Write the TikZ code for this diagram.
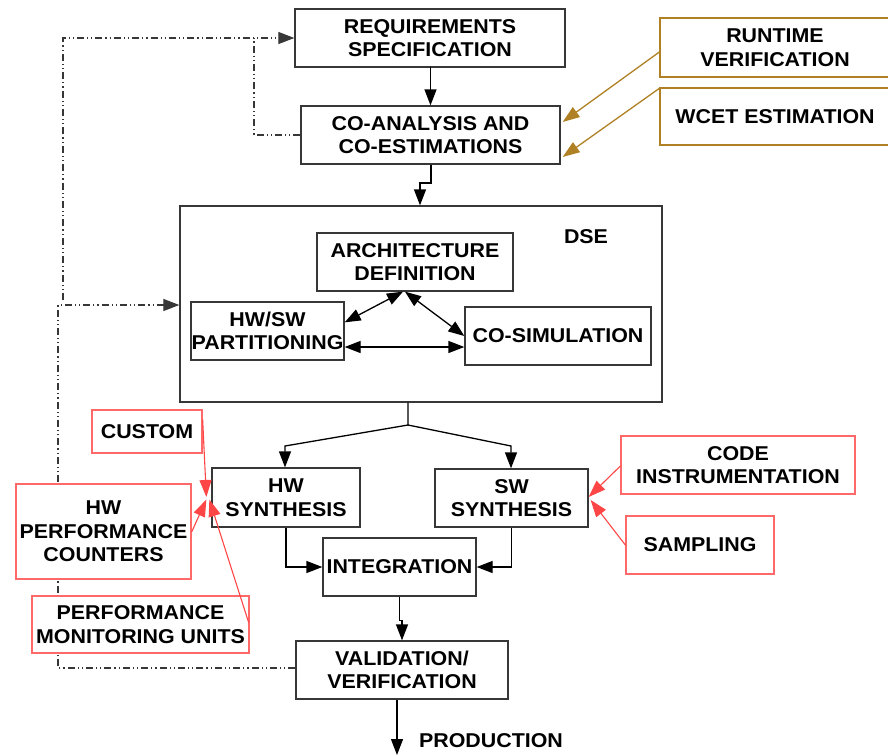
\documentclass[tikz,border=0pt]{standalone}
\usepackage{fontspec}
\setmainfont{Liberation Sans}[FakeStretch=1.07]
\usetikzlibrary{arrows.meta,calc,backgrounds}
\definecolor{boxgray}{RGB}{55,55,55}
\definecolor{brownarr}{RGB}{176,128,36}
\definecolor{redbox}{RGB}{255,105,105}
\definecolor{redarr}{RGB}{255,70,70}
\begin{document}
\begin{tikzpicture}[x=1pt,y=-1pt,
  lbl/.style={font=\fontsize{20}{23.5}\selectfont\bfseries, align=center, inner sep=0pt},
  blk/.style={lbl, draw=boxgray, line width=1.3pt, fill=white},
  brn/.style={lbl, draw=brownarr, line width=1.3pt, fill=white},
  rbx/.style={lbl, draw=redbox, line width=1.3pt, fill=white},
  sz/.style 2 args={minimum width=#1, minimum height=#2},
  tip/.tip={Triangle[length=16pt,width=12pt]},
  arr/.style={draw=black, line width=1.3pt, -tip},
  darr/.style={draw=black, line width=1.3pt, tip-tip},
  barr/.style={draw=brownarr, line width=1.3pt, -{Triangle[length=17pt,width=12pt]}},
  rarr/.style={draw=redarr, line width=1.1pt, -{Triangle[length=17pt,width=12pt]}},
  dd/.style={draw=boxgray, line width=1.2pt, dash pattern={on 7pt off 3pt on 1.2pt off 3pt on 1.2pt off 3pt}}
]
\useasboundingbox (0,0) rectangle (888,755);

% main flow boxes
\node[blk, sz={270pt}{58pt}] (req) at (430,38) {REQUIREMENTS\\SPECIFICATION};
\node[blk, sz={259pt}{58pt}] (coan) at (430.5,135) {CO-ANALYSIS AND\\CO-ESTIMATIONS};
\node[brn, sz={230pt}{59pt}] (rtv) at (775,47.5) {RUNTIME\\VERIFICATION};
\node[brn, sz={230pt}{57pt}] (wcet) at (775,116.5) {WCET ESTIMATION};

\node[blk, sz={482pt}{196pt}] (dse) at (421,304) {};
\node[lbl] (dselbl) at (586,237) {DSE};
\node[blk, sz={196pt}{58pt}] (arch) at (415,262) {ARCHITECTURE\\DEFINITION};
\node[blk, sz={153pt}{58pt}] (part) at (267.5,331) {HW/SW\\PARTITIONING};
\node[blk, sz={186pt}{58pt}] (cosim) at (558,336) {CO-SIMULATION};

\node[rbx, sz={110pt}{43pt}] (custom) at (147,431.5) {CUSTOM};
\node[rbx, sz={175pt}{95pt}] (hwpc) at (103.5,531.5) {HW\\PERFORMANCE\\COUNTERS};
\node[rbx, sz={217pt}{57pt}] (pmu) at (140.5,624.5) {PERFORMANCE\\MONITORING UNITS};

\node[blk, sz={148pt}{59pt}] (hws) at (286,497.5) {HW\\SYNTHESIS};
\node[blk, sz={153pt}{58pt}] (sws) at (511.5,498) {SW\\SYNTHESIS};
\node[blk, sz={153pt}{58pt}] (integ) at (399.5,567) {INTEGRATION};
\node[rbx, sz={234pt}{58pt}] (codei) at (738,465) {CODE\\INSTRUMENTATION};
\node[rbx, sz={148pt}{58pt}] (samp) at (700,545) {SAMPLING};
\node[blk, sz={212pt}{58pt}] (valid) at (402,670) {VALIDATION/\\VERIFICATION};
\node[lbl] (prodlbl) at (491,741) {PRODUCTION};

% helper coordinates
\coordinate (coanjog) at (431,183);
\coordinate (br) at (408,425);
\coordinate (hwbr) at (285,446);
\coordinate (swbr) at (511,446);
\coordinate (prod) at (397,755);
\coordinate (fbtop) at (63,300);
\coordinate (fbtopc) at (63,38);
\coordinate (fbmid) at (254,135);
\coordinate (fblow) at (58,668);
\coordinate (fblowc) at (58,305);

% main arrows
\draw[arr] (req.south) -- (coan.south |- req.south) -- (coan.north);
\draw[arr] ($(coan.south)+(0.5,0)$) -- (coanjog) -- ++(-11,0) -- ($(dse.north)+(-1,0)$);
\draw[arr] (br |- dse.south) -- (br) -- (hwbr) -- (hws.north -| hwbr);
\draw[arr] (br) -- (swbr) -- (sws.north -| swbr);
\draw[arr] (hws.south) -- (hws.south |- integ.west) -- (integ.west);
\draw[arr] (sws.south) -- (sws.south |- integ.east) -- (integ.east);
\draw[arr] (integ.south) -- ++(0,24) -| (valid.north);
\draw[arr] ($(valid.south)+(-5,0)$) -- (prod |- valid.south) -- (prod);

% DSE internal arrows
\draw[darr] ($(part.north east)+(0,21)$) -- ($(arch.south)+(-12,0)$);
\draw[darr] ($(arch.south)+(-10,0)$) -- (cosim.west);
\draw[darr] ($(part.east)+(0,16)$) -- ($(cosim.west)+(0,11)$);

% brown arrows
\draw[barr] ($(rtv.west)+(0,4.5)$) -- ($(coan.east)+(2,-13)$);
\draw[barr] ($(wcet.north west)+(0,1)$) -- ($(coan.east)+(2,22)$);

% red arrows
\draw[rarr] ($(custom.north east)+(0,10)$) -- ($(hws.west)+(-5,-0.5)$);
\draw[rarr] ($(hwpc.east)+(0,0.5)$) -- ($(hws.west)+(-5,2)$);
\draw[rarr] ($(pmu.east)+(-1,-2)$) -- ($(hws.west)+(-2,2)$);
\draw[rarr] ($(codei.west)+(0,1)$) -- ($(sws.east)+(0,-1)$);
\draw[rarr] (samp.west) -- ($(sws.east)+(2,2)$);

% feedback dash-dot lines (behind the boxes)
\begin{scope}[on background layer]
\draw[dd] (coan.west) -- (fbmid) -- (fbmid |- req.west);
\draw[dd, -tip] (fbtop) -- (fbtopc) -- (req.west);
\draw[dd, -tip] ($(valid.west)+(0,-2)$) -- (fblow) -- (fblowc) -- ($(dse.west)+(0,1)$);
\end{scope}
\end{tikzpicture}
\end{document}
